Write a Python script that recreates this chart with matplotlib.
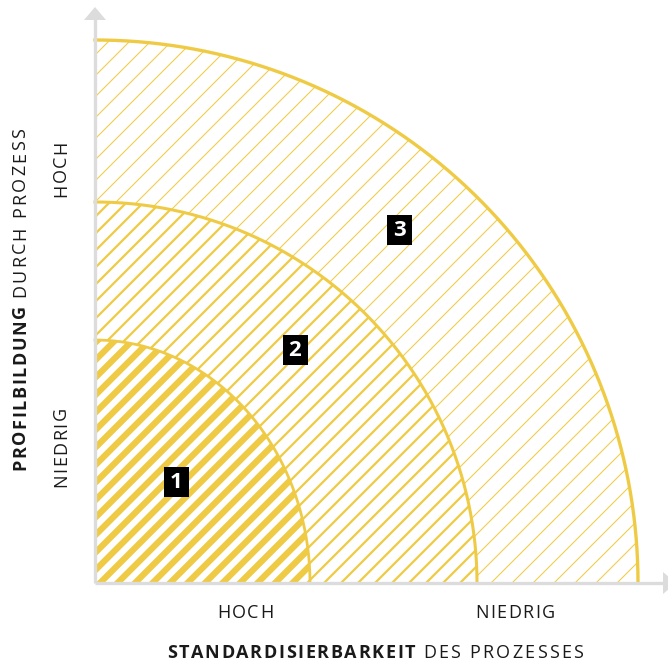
import numpy as np
import matplotlib.pyplot as plt
from matplotlib.patches import Polygon, Rectangle
from matplotlib.font_manager import FontProperties

# == chart data ===================================================
zones = ['1', '2', '3']
zone_rx = [215, 382, 543]      # reach along the x axis (origin = axis corner)
zone_ry = [243, 381, 543]      # reach along the y axis
label_pos = [(81, 101), (200, 233), (304, 353)]

x_ticks = ['HOCH', 'NIEDRIG']
x_tick_pos = [150, 420]
y_ticks = ['HOCH', 'NIEDRIG']
y_tick_pos = [414, 136]

x_title = ('STANDARDISIERBARKEIT', 'DES PROZESSES')
y_title = ('PROFILBILDUNG', 'DURCH PROZESS')

# == styles =======================================================
YELLOW = '#EFCB45'
AXIS_GREY = '#DCDCDC'
TEXT = '#1a1a1a'
hatch_period = [17.5, 17, 21]
hatch_width = [4.5, 1.6, 0.75]
edge_width = [2.0, 2.2, 2.4]
FONT = 'Open Sans'
tick_span = {'HOCH': 56, 'NIEDRIG': 80}


def ring(rx_in, ry_in, rx_out, ry_out, n=200):
    t = np.linspace(0, np.pi / 2, n)
    outer = np.column_stack([rx_out * np.cos(t), ry_out * np.sin(t)])
    if rx_in == 0:
        inner = np.array([[0.0, 0.0]])
    else:
        inner = np.column_stack([rx_in * np.cos(t[::-1]), ry_in * np.sin(t[::-1])])
    return np.vstack([outer, inner])


fig = plt.figure(figsize=(6.68, 6.63), dpi=100)
ax = fig.add_axes([0, 0, 1, 1])
ax.set_xlim(-95, 573)
ax.set_ylim(-80, 583)
ax.axis('off')
renderer = fig.canvas.get_renderer()


def spaced_text(start, end, base, s, size, weight='normal', vertical=False):
    # letter-spaced text: characters spread evenly from start to end (pixels = data units)
    fp = FontProperties(family=FONT, size=size, weight=weight)
    widths = []
    for ch in s:
        if ch == ' ':
            widths.append(0.26 * size * 100 / 72)
        else:
            widths.append(renderer.get_text_width_height_descent(ch, fp, ismath=False)[0])
    track = (abs(end - start) - sum(widths)) / max(len(s) - 1, 1)
    pos = start
    for ch, w in zip(s, widths):
        if ch != ' ':
            if vertical:
                ax.text(base, pos, ch, fontproperties=fp, color=TEXT, rotation=90,
                        rotation_mode='anchor', ha='left', va='baseline')
            else:
                ax.text(pos, base, ch, fontproperties=fp, color=TEXT,
                        ha='left', va='baseline')
        pos += w + track


# hatched zones, from inside to outside
prev_rx, prev_ry = 0, 0
for i, z in enumerate(zones):
    rx, ry = zone_rx[i], zone_ry[i]
    patch = Polygon(ring(prev_rx, prev_ry, rx, ry), closed=True,
                    facecolor='none', edgecolor='none')
    ax.add_patch(patch)
    p = hatch_period[i]
    for c in np.arange(-rx - p, ry + p, p):
        # lines of slope +1: y = x + c
        ln, = ax.plot([-10, rx + 10], [-10 + c, rx + 10 + c], color=YELLOW,
                      lw=hatch_width[i], solid_capstyle='butt', zorder=1)
        ln.set_clip_path(patch)
    t = np.linspace(0, np.pi / 2, 300)
    ax.plot(rx * np.cos(t), ry * np.sin(t), color=YELLOW, lw=edge_width[i], zorder=2)
    prev_rx, prev_ry = rx, ry

# axes with arrow heads
ax.plot([0, 0], [0, 565], color=AXIS_GREY, lw=2.4, zorder=3, solid_capstyle='butt')
ax.plot([0, 570], [0, 0], color=AXIS_GREY, lw=2.4, zorder=3, solid_capstyle='butt')
ax.add_patch(Polygon([[-11, 563], [11, 563], [0, 576]], closed=True,
                     facecolor=AXIS_GREY, edgecolor='none', zorder=3))
ax.add_patch(Polygon([[568, 11], [568, -11], [581, 0]], closed=True,
                     facecolor=AXIS_GREY, edgecolor='none', zorder=3))

# numbered zone labels
for z, (lx, ly) in zip(zones, label_pos):
    ax.add_patch(Rectangle((lx - 12.5, ly - 15), 25, 30, facecolor='black',
                           edgecolor='none', zorder=4))
    ax.text(lx, ly, z, color='white', fontsize=16, fontweight='bold', family=FONT,
            ha='center', va='center', zorder=5)

# tick labels
for s, xp in zip(x_ticks, x_tick_pos):
    half = tick_span[s] / 2
    spaced_text(xp - half, xp + half, -35, s, 13)
for s, yp in zip(y_ticks, y_tick_pos):
    half = tick_span[s] / 2
    spaced_text(yp - half, yp + half, -29, s, 13, vertical=True)

# axis titles (bold part + regular part)
spaced_text(72, 320, -75, x_title[0], 13, weight='bold')
spaced_text(328, 488, -75, x_title[1], 13)
spaced_text(113, 278, -70, y_title[0], 13, weight='bold', vertical=True)
spaced_text(286, 455, -70, y_title[1], 13, vertical=True)

fig.savefig('out.png', dpi=100)
